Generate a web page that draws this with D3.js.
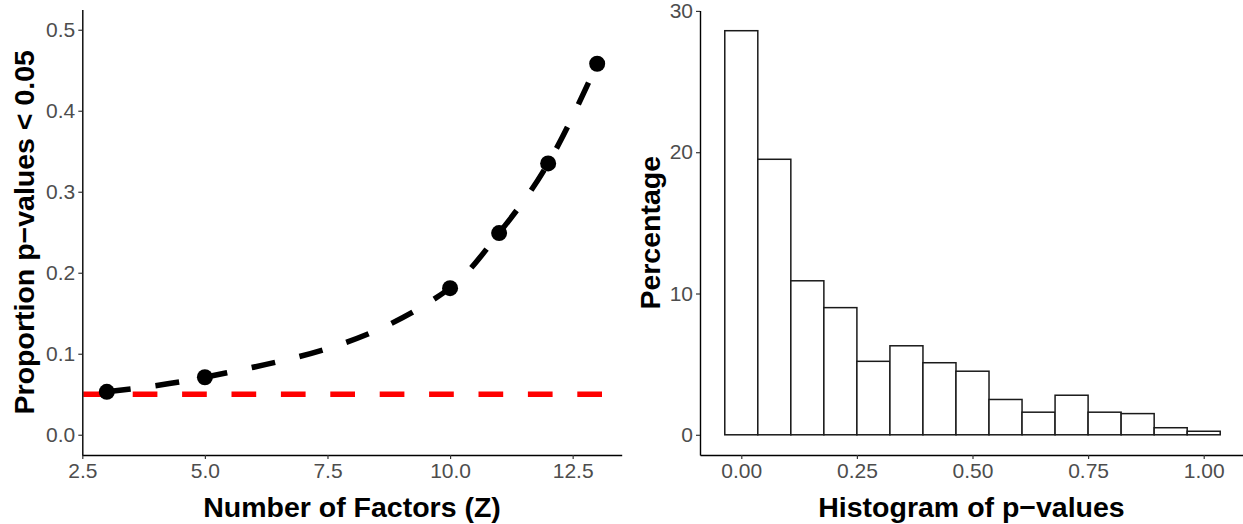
<!DOCTYPE html>
<html>
<head>
<meta charset="utf-8">
<script src="https://cdn.jsdelivr.net/npm/d3@7"></script>
<style>
  html, body { margin: 0; padding: 0; background: #fff; }
  svg { display: block; font-family: "Liberation Sans", Arial, sans-serif; }
</style>
</head>
<body>
<svg id="chart" width="1243" height="524"></svg>
<script>
// ---- Left panel data ----
const factors = [3, 5, 10, 11, 12, 13];
const proportions = [0.053, 0.071, 0.181, 0.249, 0.335, 0.458];
const threshold = 0.05;
const leftXTicks = [2.5, 5.0, 7.5, 10.0, 12.5];
const leftYTicks = [0.0, 0.1, 0.2, 0.3, 0.4, 0.5];

// ---- Right panel data (histogram, 15 bins centred at k/14) ----
const binCenters = [0, 1, 2, 3, 4, 5, 6, 7, 8, 9, 10, 11, 12, 13, 14].map(k => k / 14);
const binWidth = 1 / 14;
const percentages = [28.6, 19.5, 10.9, 9.0, 5.2, 6.3, 5.1, 4.5, 2.5, 1.6, 2.8, 1.6, 1.5, 0.5, 0.25];
const rightXTicks = [0.00, 0.25, 0.50, 0.75, 1.00];
const rightYTicks = [0, 10, 20, 30];

const svg = d3.select("#chart");
const tickColor = "#4d4d4d";

function styleAxis(g) {
  g.select(".domain").attr("stroke", "#000").attr("stroke-width", 1.4);
  g.selectAll(".tick line").attr("stroke", "#333").attr("stroke-width", 1.2);
  g.selectAll(".tick text").attr("fill", tickColor).style("font-size", "21px")
    .style("font-family", "'Liberation Sans', Arial, sans-serif");
}

// ================= LEFT PANEL =================
const lx = d3.scaleLinear().domain([2.5, 13.5]).range([82.3, 621.7]);
const ly = d3.scaleLinear().domain([-0.025, 0.525]).range([455, 9.5]);

const gL = svg.append("g");

// threshold line (red dashed)
gL.append("line")
  .attr("x1", lx(2.5) + 1).attr("x2", lx(13.5))
  .attr("y1", ly(threshold)).attr("y2", ly(threshold))
  .attr("stroke", "#ff0000").attr("stroke-width", 5.5)
  .attr("stroke-dasharray", "24.7,24.7");

// smooth dashed curve
const lineGen = d3.line()
  .x((d, i) => lx(factors[i]))
  .y(d => ly(d))
  .curve(d3.curveMonotoneX);
gL.append("path")
  .datum(proportions)
  .attr("d", lineGen)
  .attr("fill", "none")
  .attr("stroke", "#000")
  .attr("stroke-width", 5.5)
  .attr("stroke-dasharray", "24,25");

// points
gL.selectAll("circle.pt")
  .data(proportions)
  .join("circle")
  .attr("class", "pt")
  .attr("cx", (d, i) => lx(factors[i]))
  .attr("cy", d => ly(d))
  .attr("r", 8)
  .attr("fill", "#000");

// axes
const lxAxis = gL.append("g").attr("transform", `translate(0,${455})`)
  .call(d3.axisBottom(lx).tickValues(leftXTicks).tickFormat(d3.format(".1f")).tickSize(4).tickSizeOuter(0).tickPadding(3));
styleAxis(lxAxis);
lxAxis.selectAll(".tick text").attr("dy", "0.75em");

const lyAxis = gL.append("g").attr("transform", `translate(${82.3},0)`)
  .call(d3.axisLeft(ly).tickValues(leftYTicks).tickFormat(d3.format(".1f")).tickSize(4).tickSizeOuter(0).tickPadding(3));
styleAxis(lyAxis);

// titles
gL.append("text")
  .attr("x", (82.3 + 621.7) / 2).attr("y", 517)
  .attr("text-anchor", "middle")
  .style("font-size", "28.5px").style("font-weight", "bold")
  .text("Number of Factors (Z)");

gL.append("text")
  .attr("transform", `translate(34,${(9.5 + 455) / 2}) rotate(-90)`)
  .attr("text-anchor", "middle")
  .style("font-size", "28.5px").style("font-weight", "bold")
  .text("Proportion p\u2212values < 0.05");

// ================= RIGHT PANEL =================
const rx = d3.scaleLinear().domain([-0.0893, 1.0893]).range([700, 1245]);
const ry = d3.scaleLinear().domain([-1.43, 30.03]).range([455, 10.5]);

const gR = svg.append("g");

gR.selectAll("rect.bar")
  .data(percentages)
  .join("rect")
  .attr("class", "bar")
  .attr("x", (d, i) => rx(binCenters[i] - binWidth / 2))
  .attr("width", (d, i) => rx(binCenters[i] + binWidth / 2) - rx(binCenters[i] - binWidth / 2))
  .attr("y", d => ry(d))
  .attr("height", d => ry(0) - ry(d))
  .attr("fill", "#fff")
  .attr("stroke", "#1a1a1a")
  .attr("stroke-width", 1.5);

const rxAxis = gR.append("g").attr("transform", `translate(0,${455})`)
  .call(d3.axisBottom(rx).tickValues(rightXTicks).tickFormat(d3.format(".2f")).tickSize(4).tickSizeOuter(0).tickPadding(3));
styleAxis(rxAxis);
rxAxis.selectAll(".tick text").attr("dy", "0.75em");

const ryAxis = gR.append("g").attr("transform", `translate(${700},0)`)
  .call(d3.axisLeft(ry).tickValues(rightYTicks).tickFormat(d3.format("d")).tickSize(4).tickSizeOuter(0).tickPadding(3));
styleAxis(ryAxis);

gR.append("text")
  .attr("x", (700 + 1243) / 2).attr("y", 517)
  .attr("text-anchor", "middle")
  .style("font-size", "28.5px").style("font-weight", "bold")
  .text("Histogram of p\u2212values");

gR.append("text")
  .attr("transform", `translate(660,${(10.5 + 455) / 2}) rotate(-90)`)
  .attr("text-anchor", "middle")
  .style("font-size", "28.5px").style("font-weight", "bold")
  .text("Percentage");
</script>
</body>
</html>
